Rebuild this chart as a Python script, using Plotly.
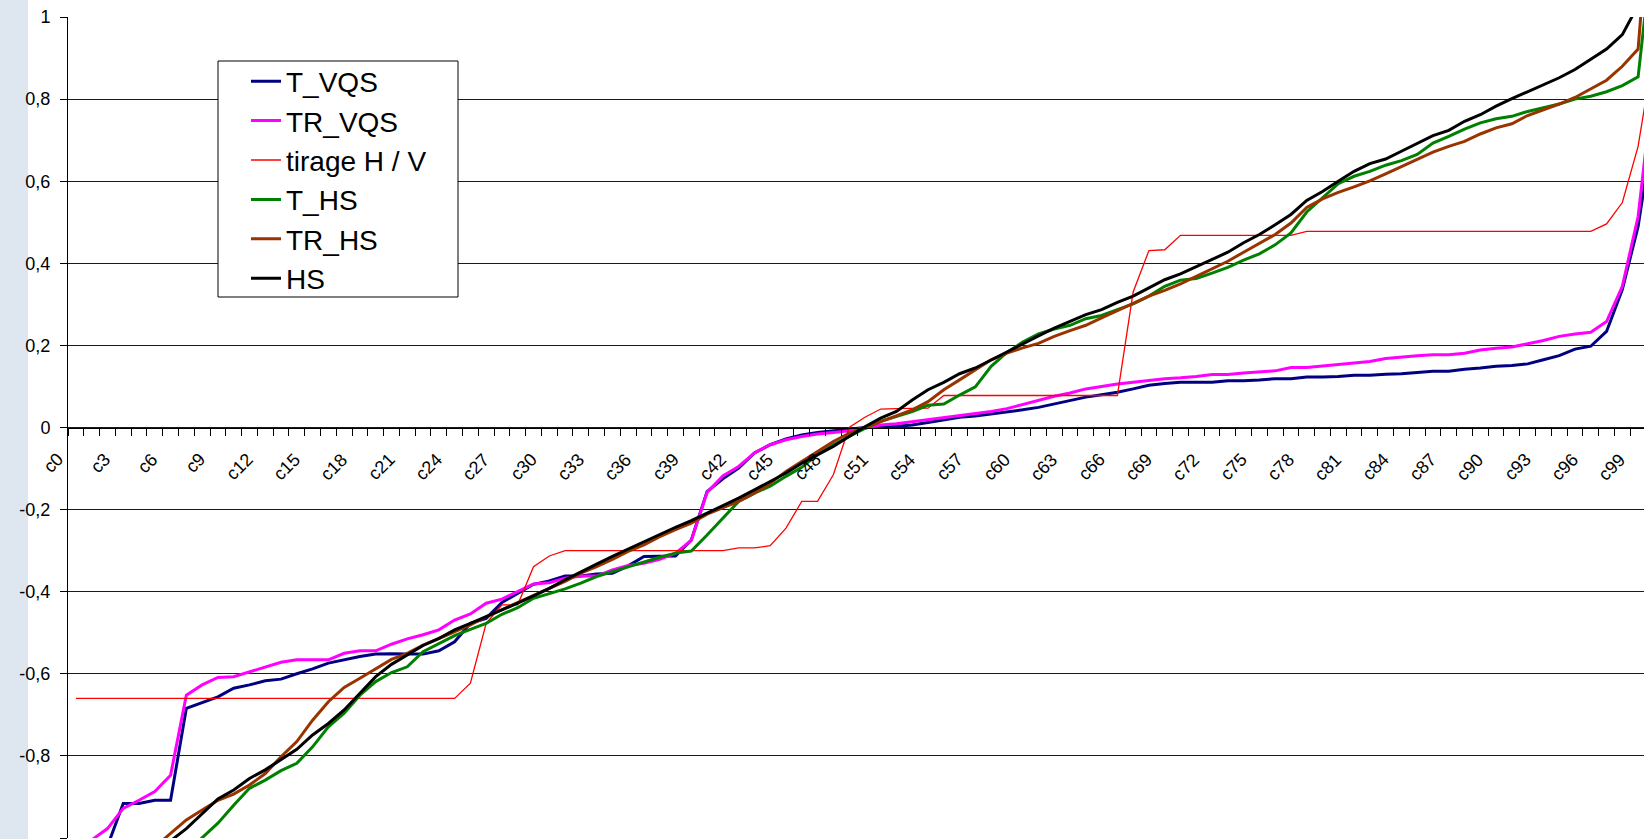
import plotly.graph_objects as go

categories = [f"c{i}" for i in range(101)]

t_vqs = [-1.10, -1.06, -1.02, -0.916, -0.916, -0.908, -0.908, -0.684, -0.670, -0.656,
         -0.635, -0.627, -0.617, -0.613, -0.600, -0.588, -0.574, -0.566, -0.558, -0.552,
         -0.551, -0.552, -0.552, -0.544, -0.522, -0.477, -0.465, -0.426, -0.405, -0.382,
         -0.374, -0.362, -0.362, -0.357, -0.355, -0.337, -0.314, -0.313, -0.313, -0.274,
         -0.156, -0.125, -0.099, -0.062, -0.042, -0.028, -0.018, -0.012, -0.008, -0.004,
         0.000, 0.000, 0.003, 0.006, 0.012, 0.019, 0.025, 0.028, 0.033, 0.037,
         0.043, 0.049, 0.057, 0.066, 0.074, 0.080, 0.086, 0.094, 0.103, 0.107,
         0.110, 0.110, 0.110, 0.114, 0.114, 0.116, 0.119, 0.119, 0.123, 0.123,
         0.124, 0.127, 0.127, 0.130, 0.131, 0.134, 0.137, 0.137, 0.142, 0.145,
         0.149, 0.151, 0.155, 0.165, 0.175, 0.191, 0.198, 0.234, 0.336, 0.490,
         0.74]

tr_vqs = [-1.04, -1.005, -0.977, -0.928, -0.908, -0.887, -0.847, -0.652, -0.627, -0.609,
          -0.607, -0.595, -0.583, -0.572, -0.566, -0.566, -0.566, -0.550, -0.544, -0.544,
          -0.528, -0.515, -0.505, -0.493, -0.469, -0.454, -0.428, -0.418, -0.400, -0.381,
          -0.378, -0.367, -0.362, -0.362, -0.347, -0.336, -0.331, -0.321, -0.306, -0.275,
          -0.158, -0.118, -0.095, -0.062, -0.042, -0.030, -0.022, -0.016, -0.012, -0.008,
          -0.002, 0.006, 0.009, 0.014, 0.019, 0.025, 0.030, 0.035, 0.039, 0.046,
          0.056, 0.067, 0.076, 0.084, 0.094, 0.100, 0.106, 0.110, 0.115, 0.119,
          0.121, 0.124, 0.129, 0.129, 0.133, 0.135, 0.138, 0.146, 0.146, 0.150,
          0.154, 0.157, 0.161, 0.168, 0.172, 0.175, 0.177, 0.177, 0.181, 0.189,
          0.193, 0.196, 0.204, 0.212, 0.222, 0.228, 0.232, 0.258, 0.344, 0.514,
          0.85]

tirage_hv = [-0.66, -0.66, -0.66, -0.66, -0.66, -0.66, -0.66, -0.66, -0.66, -0.66,
             -0.66, -0.66, -0.66, -0.66, -0.66, -0.66, -0.66, -0.66, -0.66, -0.66,
             -0.66, -0.66, -0.66, -0.66, -0.66, -0.623, -0.477, -0.432, -0.432, -0.339,
             -0.313, -0.300, -0.300, -0.300, -0.300, -0.300, -0.300, -0.300, -0.300, -0.300,
             -0.300, -0.300, -0.293, -0.293, -0.288, -0.245, -0.180, -0.180, -0.115, 0.000,
             0.025, 0.045, 0.046, 0.046, 0.047, 0.078, 0.078, 0.078, 0.078, 0.078,
             0.078, 0.078, 0.078, 0.078, 0.078, 0.078, 0.078, 0.330, 0.431, 0.433,
             0.468, 0.468, 0.468, 0.468, 0.468, 0.468, 0.468, 0.468, 0.478, 0.478,
             0.478, 0.478, 0.478, 0.478, 0.478, 0.478, 0.478, 0.478, 0.478, 0.478,
             0.478, 0.478, 0.478, 0.478, 0.478, 0.478, 0.478, 0.496, 0.548, 0.685,
             0.92]

t_hs = [-1.30, -1.26, -1.22, -1.18, -1.14, -1.10, -1.07, -1.035, -0.999, -0.964,
        -0.920, -0.879, -0.859, -0.836, -0.818, -0.778, -0.729, -0.696, -0.652, -0.619,
        -0.597, -0.583, -0.546, -0.526, -0.507, -0.492, -0.477, -0.455, -0.439, -0.416,
        -0.405, -0.393, -0.379, -0.363, -0.351, -0.339, -0.327, -0.316, -0.306, -0.301,
        -0.262, -0.222, -0.180, -0.160, -0.143, -0.119, -0.097, -0.066, -0.042, -0.022,
        -0.002, 0.015, 0.027, 0.039, 0.054, 0.057, 0.079, 0.099, 0.149, 0.183,
        0.208, 0.228, 0.240, 0.249, 0.265, 0.273, 0.287, 0.301, 0.320, 0.344,
        0.359, 0.363, 0.376, 0.390, 0.408, 0.423, 0.445, 0.474, 0.525, 0.559,
        0.594, 0.612, 0.624, 0.639, 0.650, 0.665, 0.693, 0.709, 0.727, 0.742,
        0.752, 0.758, 0.770, 0.779, 0.788, 0.800, 0.807, 0.818, 0.833, 0.854,
        1.20]

tr_hs = [-1.22, -1.18, -1.14, -1.10, -1.06, -1.022, -0.989, -0.956, -0.932, -0.908,
         -0.893, -0.871, -0.843, -0.802, -0.765, -0.713, -0.668, -0.633, -0.611, -0.587,
         -0.565, -0.550, -0.530, -0.514, -0.497, -0.481, -0.461, -0.444, -0.427, -0.410,
         -0.394, -0.375, -0.355, -0.339, -0.321, -0.302, -0.286, -0.266, -0.249, -0.233,
         -0.211, -0.195, -0.180, -0.160, -0.136, -0.107, -0.083, -0.058, -0.034, -0.014,
         0.000, 0.015, 0.029, 0.043, 0.063, 0.092, 0.116, 0.141, 0.165, 0.181,
         0.194, 0.205, 0.222, 0.236, 0.249, 0.267, 0.285, 0.301, 0.320, 0.334,
         0.350, 0.368, 0.386, 0.405, 0.427, 0.448, 0.470, 0.498, 0.536, 0.557,
         0.573, 0.586, 0.601, 0.618, 0.636, 0.653, 0.671, 0.685, 0.697, 0.715,
         0.730, 0.740, 0.760, 0.774, 0.788, 0.804, 0.825, 0.846, 0.880, 0.922,
         1.40]

hs = [-1.25, -1.20, -1.16, -1.12, -1.08, -1.045, -1.007, -0.977, -0.940, -0.905,
      -0.883, -0.855, -0.834, -0.810, -0.784, -0.749, -0.721, -0.688, -0.648, -0.607,
      -0.577, -0.554, -0.531, -0.514, -0.493, -0.477, -0.461, -0.444, -0.428, -0.410,
      -0.392, -0.371, -0.351, -0.333, -0.314, -0.296, -0.278, -0.260, -0.243, -0.227,
      -0.209, -0.189, -0.172, -0.152, -0.131, -0.111, -0.087, -0.066, -0.046, -0.022,
      0.002, 0.023, 0.039, 0.067, 0.092, 0.110, 0.131, 0.145, 0.165, 0.185,
      0.203, 0.223, 0.242, 0.259, 0.275, 0.287, 0.305, 0.320, 0.340, 0.360,
      0.374, 0.391, 0.409, 0.427, 0.450, 0.470, 0.494, 0.519, 0.553, 0.575,
      0.600, 0.624, 0.643, 0.654, 0.673, 0.692, 0.711, 0.724, 0.746, 0.762,
      0.783, 0.801, 0.818, 0.833, 0.852, 0.872, 0.896, 0.922, 0.957, 1.030,
      1.10]

y_tick_values = [-1, -0.8, -0.6, -0.4, -0.2, 0, 0.2, 0.4, 0.6, 0.8, 1]
y_tick_labels = ["-1", "-0,8", "-0,6", "-0,4", "-0,2", "0", "0,2", "0,4", "0,6", "0,8", "1"]
x_label_categories = categories[::3]

series = [
    ("T_VQS", t_vqs, "#000080", 3),
    ("TR_VQS", tr_vqs, "#FF00FF", 3),
    ("tirage H / V", tirage_hv, "#FF0000", 1.3),
    ("T_HS", t_hs, "#008000", 3),
    ("TR_HS", tr_hs, "#993300", 3),
    ("HS", hs, "#000000", 3),
]

FONT = "Liberation Sans, Arial, sans-serif"
W, H = 1644, 839
ML, MR, MT, MB = 68, 0, 17, 1
PW, PH = W - ML - MR, H - MT - MB


def px_x(p):
    return (p - ML) / PW


def px_y(p):
    return (H - MB - p) / PH


fig = go.Figure()
for name, vals, color, width in series:
    fig.add_trace(go.Scatter(
        x=categories, y=vals, name=name, mode="lines",
        line=dict(color=color, width=width),
        legendgroup=name,
    ))

# category-axis labels, rotated like the original (drawn as annotations on the x axis)
for c in x_label_categories:
    fig.add_annotation(
        x=c, y=0, xref="x", yref="y", text=c, showarrow=False,
        textangle=-45, xanchor="right", yanchor="top",
        xshift=-6, yshift=-19,
        font=dict(family=FONT, size=18, color="black"),
        borderpad=1, borderwidth=1, bordercolor="rgba(0,0,0,0)",
    )

cat_w = 15.78
fig.update_layout(
    width=W, height=H,
    margin=dict(l=ML, r=MR, t=MT, b=MB, pad=0),
    paper_bgcolor="white", plot_bgcolor="white",
    font=dict(family=FONT, size=18, color="black"),
    showlegend=True,
    legend=dict(
        x=px_x(246), y=px_y(56.5), xanchor="left", yanchor="top",
        bgcolor="rgba(0,0,0,0)", borderwidth=0,
        font=dict(family=FONT, size=28, color="black"),
        tracegroupgap=0,
    ),
    xaxis=dict(
        type="category", categoryorder="array", categoryarray=categories,
        range=[-0.5, -0.5 + PW / cat_w],
        anchor="free", position=0.5, side="bottom",
        showline=True, linecolor="black", linewidth=1,
        showgrid=False, zeroline=False,
        tickmode="array", tickvals=categories,
        tickson="boundaries", showticklabels=False,
        ticks="outside", ticklen=7, tickcolor="black", tickwidth=1,
        automargin=False,
    ),
    yaxis=dict(
        range=[-1, 1], domain=[0, 1],
        tickmode="array", tickvals=y_tick_values, ticktext=y_tick_labels,
        showline=True, linecolor="black", linewidth=1,
        showgrid=True, gridcolor="#1a1a1a", gridwidth=1,
        zeroline=False,
        ticks="outside", ticklen=7, tickcolor="black", tickwidth=1,
        tickfont=dict(family=FONT, size=18, color="black"),
        ticklabelstandoff=6,
        automargin=False,
    ),
    shapes=[
        dict(type="rect", xref="paper", yref="paper",
             x0=px_x(-5), x1=px_x(28), y0=px_y(H + 5), y1=px_y(-5),
             fillcolor="#dee6f0", line=dict(width=0), layer="below"),
        dict(type="rect", xref="paper", yref="paper",
             x0=px_x(218), x1=px_x(458), y0=px_y(297), y1=px_y(61),
             fillcolor="white", line=dict(color="black", width=1), layer="above"),
    ],
)

fig.write_html(
    "out.html",
    config={"displayModeBar": False},
    post_script="document.body.style.margin='0px';document.body.style.padding='0px';"
                "document.documentElement.style.overflow='hidden';",
)
